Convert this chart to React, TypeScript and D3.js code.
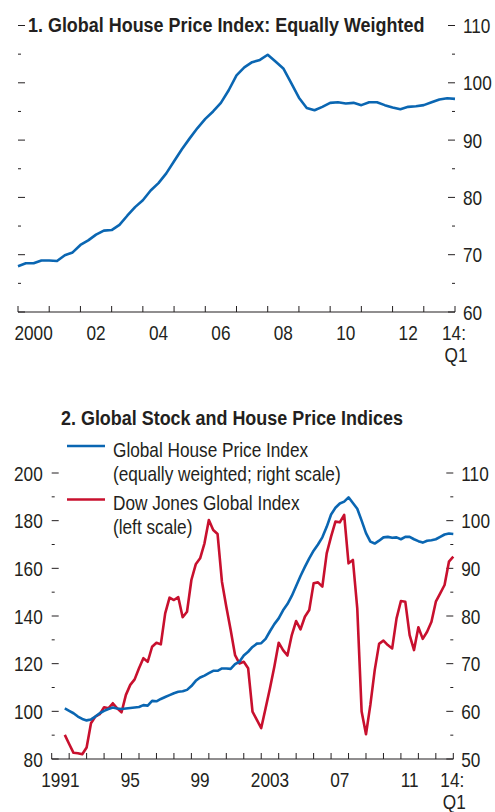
import React, { useEffect, useRef } from "react"
import * as d3 from "d3"

// no narrow face installed, so Arial-metric text is squeezed horizontally
const FONT = "'Liberation Sans', Arial, Helvetica, sans-serif"
const NARROW = 0.82
const NARROW_BOLD = 0.855
const INK = "#231f20"
const BLUE = "#0a66b2"
const RED = "#c8102e"

// Global house price index (equally weighted), quarterly 2000:Q1 - 2014:Q1
const housePrice = [
    68.0, 68.5, 68.5, 69.0,
    69.0, 68.9, 69.9, 70.4,
    71.7, 72.5, 73.5, 74.2,
    74.3, 75.2, 76.8, 78.3,
    79.5, 81.2, 82.5, 84.2,
    86.3, 88.4, 90.3, 92.1,
    93.7, 95.0, 96.5, 98.7,
    101.3, 102.7, 103.6, 104.0,
    104.9, 103.7, 102.5, 100.0,
    97.4, 95.6, 95.2, 95.8,
    96.5, 96.6, 96.4, 96.5,
    96.1, 96.6, 96.6, 96.1,
    95.7, 95.4, 95.8, 95.9,
    96.1, 96.6, 97.1, 97.3,
    97.2
]
// same index before 2000 (only shown in panel 2), 1991:Q4 - 1999:Q4
const housePriceEarly = [
    60.6,
    60.1, 59.6, 58.9, 58.4,
    58.1, 58.3, 58.9, 59.6,
    60.1, 60.5, 60.8, 60.6,
    60.5, 60.6, 60.7, 60.8,
    60.9, 61.3, 61.2, 62.2,
    62.1, 62.6, 63.0, 63.4,
    63.8, 64.1, 64.2, 64.5,
    65.3, 66.4, 67.1, 67.5
]
// Dow Jones Global Index, quarterly 1991:Q4 - 2014:Q1
const dowJones = [
    90.1,
    86.3, 82.6, 82.4, 82.0,
    84.8, 95.0, 97.8, 98.8,
    101.7, 101.3, 103.4, 101.3,
    99.6, 106.9, 111.1, 113.4,
    118.1, 122.3, 120.8, 127.1,
    128.8, 128.1, 141.1, 147.7,
    146.7, 147.9, 139.5, 141.8,
    155.1, 161.7, 164.2, 170.5,
    180.3, 176.1, 174.4, 154.4,
    143.9, 134.1, 123.6, 120.1,
    120.8, 118.1, 99.9, 96.4,
    93.0, 101.3, 109.7, 118.7,
    128.8, 125.7, 123.4, 132.0,
    137.9, 134.4, 139.7, 142.5,
    153.7, 154.1, 152.3, 166.3,
    173.3, 179.6, 179.3, 182.4,
    162.1, 163.5, 143.2, 99.9,
    90.4, 102.7, 117.3, 128.3,
    129.7, 127.8, 126.4, 139.0,
    146.3, 146.0, 132.0, 125.7,
    135.3, 130.4, 133.4, 137.6,
    146.0, 149.5, 153.0, 162.8,
    164.9
]

const panel1Years = [2000, 2002, 2004, 2006, 2008, 2010, 2012]
const panel1YearLabels = ["2000", "02", "04", "06", "08", "10", "12"]
const panel2Years = [1991, 1995, 1999, 2003, 2007, 2011]
const panel2YearLabels = ["1991", "95", "99", "2003", "07", "11"]
const endLabel = ["14:", "Q1"]

const panel1Title = "1. Global House Price Index: Equally Weighted"
const panel2Title = "2. Global Stock and House Price Indices"
const legendItems = [
    ["Global House Price Index", "(equally weighted; right scale)"],
    ["Dow Jones Global Index", "(left scale)"]
]

const toPoints = (values, start) => values.map((v, i) => [start + i / 4, v])

function putText(g, x, y, str, anchor = "start", bold = false) {
    const sx = bold ? NARROW_BOLD : NARROW
    return g.append("text")
        .attr("transform", `translate(${x},${y}) scale(${sx},1)`)
        .attr("text-anchor", anchor)
        .attr("font-weight", bold ? "bold" : null)
        .text(str)
}

function drawXAxis(g, x, y0, years, labels) {
    const [x0, x1] = x.domain()
    g.append("line")
        .attr("x1", x(x0)).attr("x2", x(x1))
        .attr("y1", y0).attr("y2", y0)
        .attr("stroke", INK).attr("stroke-width", 1.2)
    g.selectAll(null)
        .data(d3.range(x0, x1 + 1))
        .enter()
        .append("line")
        .attr("x1", d => x(d)).attr("x2", d => x(d))
        .attr("y1", y0).attr("y2", y0 - 6)
        .attr("stroke", INK).attr("stroke-width", 1)
    years.forEach((yr, i) => putText(g, x(yr + 0.5), y0 + 28, labels[i], "middle"))
    endLabel.forEach((t, i) => putText(g, x(x1) + (i ? 1 : -1), y0 + 28 + i * 22, t, "middle"))
}

// inward ticks on one side; majors labelled if labelSide given
function drawYTicks(g, y, xEdge, dir, major, minor, labelSide) {
    const [lo, hi] = y.domain()
    g.selectAll(null)
        .data(d3.range(lo, hi + 0.1, minor))
        .enter()
        .append("line")
        .attr("x1", xEdge)
        .attr("x2", d => xEdge + dir * ((d - lo) % major === 0 ? 7 : 3))
        .attr("y1", d => y(d)).attr("y2", d => y(d))
        .attr("stroke", INK).attr("stroke-width", 1)
    if (!labelSide) return
    d3.range(lo, hi + 0.1, major).forEach(d => {
        if (labelSide === "right") putText(g, xEdge + 8, y(d) + 7.5, d)
        else putText(g, xEdge - 9, y(d) + 7.5, d, "end")
    })
}

export default function App() {
    const ref = useRef(null)

    useEffect(() => {
        const svg = d3.select(ref.current)
        svg.selectAll("*").remove()
        svg.attr("font-family", FONT).attr("font-size", 21).attr("fill", INK)

        // ---- panel 1
        const p1 = svg.append("g")
        const x1 = d3.scaleLinear().domain([2000, 2014]).range([18, 455])
        const y1 = d3.scaleLinear().domain([60, 110]).range([312, 25.5])
        drawYTicks(p1, y1, 18, 1, 10, 5, null)
        drawYTicks(p1, y1, 455, -1, 10, 5, "right")
        drawXAxis(p1, x1, 312, panel1Years, panel1YearLabels)
        putText(p1, 28, 32, panel1Title, "start", true)

        const line1 = d3.line().x(d => x1(d[0])).y(d => y1(d[1]))
        p1.append("path")
            .attr("d", line1(toPoints(housePrice, 2000)))
            .attr("fill", "none").attr("stroke", BLUE)
            .attr("stroke-width", 2.6).attr("stroke-linejoin", "round")

        // ---- panel 2
        const p2 = svg.append("g")
        const x2 = d3.scaleLinear().domain([1991, 2014]).range([51.7, 453.3])
        const yL = d3.scaleLinear().domain([80, 200]).range([759, 473])
        const yR = d3.scaleLinear().domain([50, 110]).range([759, 473])
        drawYTicks(p2, yL, 51.7, 1, 20, 10, "left")
        drawYTicks(p2, yR, 453.3, -1, 10, 5, "right")
        drawXAxis(p2, x2, 759, panel2Years, panel2YearLabels)
        putText(p2, 61, 425, panel2Title, "start", true)

        const house2 = toPoints(housePriceEarly.concat(housePrice), 1991.75)
        const dj = toPoints(dowJones, 1991.75)
        p2.append("path")
            .attr("d", d3.line().x(d => x2(d[0])).y(d => yL(d[1]))(dj))
            .attr("fill", "none").attr("stroke", RED)
            .attr("stroke-width", 2.6).attr("stroke-linejoin", "round")
        p2.append("path")
            .attr("d", d3.line().x(d => x2(d[0])).y(d => yR(d[1]))(house2))
            .attr("fill", "none").attr("stroke", BLUE)
            .attr("stroke-width", 2.6).attr("stroke-linejoin", "round")

        // legend
        const legend = p2.append("g")
        legendItems.forEach((item, i) => {
            const top = 446 + i * 53.5
            legend.append("line")
                .attr("x1", 67).attr("x2", 105)
                .attr("y1", top).attr("y2", top)
                .attr("stroke", i ? RED : BLUE).attr("stroke-width", 2.6)
            item.forEach((t, j) => putText(legend, 113, top + 10.5 + j * 24, t))
        })
    }, [])

    return (
        <svg
            ref={ref}
            width={495}
            height={812}
            style={{ position: "absolute", left: 0, top: 0, background: "#fff" }}
        />
    )
}
